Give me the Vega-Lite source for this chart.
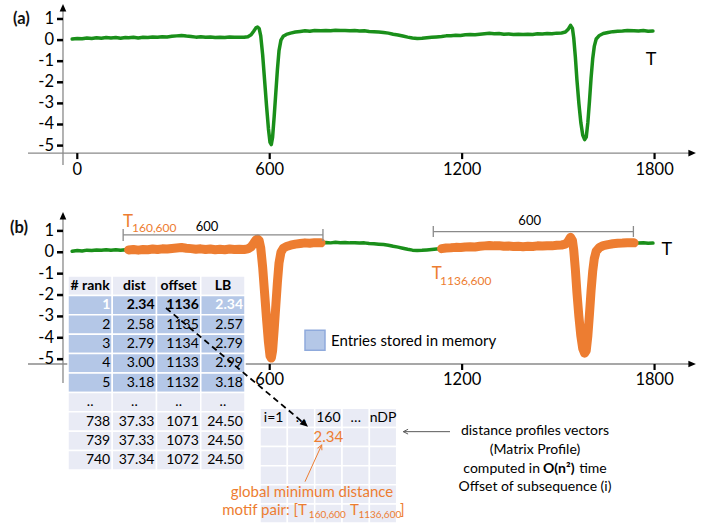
{
  "$schema": "https://vega.github.io/schema/vega-lite/v6.json",
  "width": 718,
  "height": 527,
  "autosize": {"type": "none"},
  "padding": 0,
  "config": {"view": {"stroke": null}, "font": "Lato", "axis": {"disable": true}},
  "datasets": {
    "series": [
      {"t": -16, "v": 0.05}, {"t": 0, "v": 0.08}, {"t": 15, "v": 0.06}, {"t": 30, "v": 0.1}, {"t": 45, "v": 0.08},
      {"t": 60, "v": 0.11}, {"t": 75, "v": 0.09}, {"t": 90, "v": 0.12}, {"t": 105, "v": 0.1}, {"t": 120, "v": 0.12},
      {"t": 135, "v": 0.09}, {"t": 150, "v": 0.12}, {"t": 160, "v": 0.11}, {"t": 175, "v": 0.13}, {"t": 190, "v": 0.1},
      {"t": 205, "v": 0.13}, {"t": 220, "v": 0.12}, {"t": 235, "v": 0.15}, {"t": 250, "v": 0.13}, {"t": 265, "v": 0.16},
      {"t": 280, "v": 0.15}, {"t": 295, "v": 0.18}, {"t": 310, "v": 0.2}, {"t": 325, "v": 0.22}, {"t": 340, "v": 0.19},
      {"t": 355, "v": 0.17}, {"t": 370, "v": 0.14}, {"t": 385, "v": 0.16}, {"t": 400, "v": 0.13}, {"t": 415, "v": 0.15},
      {"t": 430, "v": 0.12}, {"t": 445, "v": 0.14}, {"t": 460, "v": 0.12}, {"t": 475, "v": 0.15}, {"t": 490, "v": 0.13},
      {"t": 505, "v": 0.14}, {"t": 520, "v": 0.13}, {"t": 532, "v": 0.16}, {"t": 542, "v": 0.25}, {"t": 550, "v": 0.42},
      {"t": 557, "v": 0.58}, {"t": 562, "v": 0.62}, {"t": 567, "v": 0.55}, {"t": 572, "v": 0.2}, {"t": 578, "v": -0.7},
      {"t": 584, "v": -1.9}, {"t": 590, "v": -3.1}, {"t": 596, "v": -4.2}, {"t": 601, "v": -4.85}, {"t": 605, "v": -4.95},
      {"t": 609, "v": -4.6}, {"t": 614, "v": -3.6}, {"t": 619, "v": -2.5}, {"t": 624, "v": -1.4}, {"t": 629, "v": -0.5},
      {"t": 635, "v": 0.0}, {"t": 642, "v": 0.18}, {"t": 652, "v": 0.27}, {"t": 665, "v": 0.33}, {"t": 680, "v": 0.38},
      {"t": 695, "v": 0.41}, {"t": 710, "v": 0.44}, {"t": 725, "v": 0.42}, {"t": 740, "v": 0.45}, {"t": 760, "v": 0.44},
      {"t": 775, "v": 0.46}, {"t": 790, "v": 0.44}, {"t": 805, "v": 0.47}, {"t": 820, "v": 0.45}, {"t": 835, "v": 0.46},
      {"t": 850, "v": 0.44}, {"t": 865, "v": 0.45}, {"t": 880, "v": 0.43}, {"t": 895, "v": 0.44}, {"t": 910, "v": 0.41},
      {"t": 925, "v": 0.4}, {"t": 940, "v": 0.38}, {"t": 955, "v": 0.36}, {"t": 970, "v": 0.33}, {"t": 985, "v": 0.28},
      {"t": 1000, "v": 0.24}, {"t": 1015, "v": 0.19}, {"t": 1030, "v": 0.14}, {"t": 1045, "v": 0.1}, {"t": 1060, "v": 0.08},
      {"t": 1075, "v": 0.09}, {"t": 1090, "v": 0.11}, {"t": 1105, "v": 0.13}, {"t": 1120, "v": 0.15}, {"t": 1136, "v": 0.17},
      {"t": 1150, "v": 0.2}, {"t": 1165, "v": 0.21}, {"t": 1180, "v": 0.23}, {"t": 1195, "v": 0.22}, {"t": 1210, "v": 0.25},
      {"t": 1225, "v": 0.26}, {"t": 1240, "v": 0.25}, {"t": 1255, "v": 0.28}, {"t": 1270, "v": 0.3}, {"t": 1285, "v": 0.32},
      {"t": 1300, "v": 0.3}, {"t": 1315, "v": 0.31}, {"t": 1330, "v": 0.28}, {"t": 1345, "v": 0.29}, {"t": 1360, "v": 0.27},
      {"t": 1375, "v": 0.28}, {"t": 1390, "v": 0.26}, {"t": 1405, "v": 0.28}, {"t": 1420, "v": 0.27}, {"t": 1435, "v": 0.3},
      {"t": 1450, "v": 0.29}, {"t": 1465, "v": 0.31}, {"t": 1480, "v": 0.3}, {"t": 1495, "v": 0.33}, {"t": 1510, "v": 0.34},
      {"t": 1522, "v": 0.38}, {"t": 1530, "v": 0.5}, {"t": 1538, "v": 0.7}, {"t": 1544, "v": 0.55}, {"t": 1548, "v": 0.1},
      {"t": 1553, "v": -0.8}, {"t": 1558, "v": -1.9}, {"t": 1564, "v": -3.0}, {"t": 1570, "v": -3.9}, {"t": 1576, "v": -4.5},
      {"t": 1582, "v": -4.72}, {"t": 1587, "v": -4.6}, {"t": 1592, "v": -3.9}, {"t": 1597, "v": -2.9}, {"t": 1602, "v": -1.8},
      {"t": 1607, "v": -0.9}, {"t": 1612, "v": -0.3}, {"t": 1618, "v": 0.05}, {"t": 1628, "v": 0.22}, {"t": 1640, "v": 0.31},
      {"t": 1655, "v": 0.36}, {"t": 1670, "v": 0.4}, {"t": 1685, "v": 0.42}, {"t": 1700, "v": 0.43}, {"t": 1715, "v": 0.45},
      {"t": 1736, "v": 0.44}, {"t": 1750, "v": 0.43}, {"t": 1765, "v": 0.45}, {"t": 1780, "v": 0.42}, {"t": 1795, "v": 0.43}
    ],
    "yticks": [
      {"t": -63.3, "t2": -44.6, "v": -5, "label": "-5"}, {"t": -63.3, "t2": -44.6, "v": -4, "label": "-4"},
      {"t": -63.3, "t2": -44.6, "v": -3, "label": "-3"}, {"t": -63.3, "t2": -44.6, "v": -2, "label": "-2"},
      {"t": -63.3, "t2": -44.6, "v": -1, "label": "-1"}, {"t": -63.3, "t2": -44.6, "v": 0, "label": "0"},
      {"t": -63.3, "t2": -44.6, "v": 1, "label": "1"}
    ],
    "xticksA": [
      {"t": 0, "v": -5.355, "v2": -5.64, "label": "0"}, {"t": 600, "v": -5.355, "v2": -5.64, "label": "600"},
      {"t": 1200, "v": -5.355, "v2": -5.64, "label": "1200"}, {"t": 1800, "v": -5.355, "v2": -5.64, "label": "1800"}
    ],
    "xticksB": [
      {"t": 0, "v": -5.225, "v2": -5.506, "label": "0"}, {"t": 600, "v": -5.225, "v2": -5.506, "label": "600"},
      {"t": 1200, "v": -5.225, "v2": -5.506, "label": "1200"}, {"t": 1800, "v": -5.225, "v2": -5.506, "label": "1800"}
    ]
  },
  "layer": [
    {
      "encoding": {
        "x": {"field": "t", "type": "quantitative", "scale": {"domain": [-241, 1997.8], "nice": false, "zero": false}},
        "y": {"field": "v", "type": "quantitative", "scale": {"domain": [-23.076, 1.9], "nice": false, "zero": false}}
      },
      "layer": [
        {
          "data": {"name": "series"},
          "mark": {"type": "line", "color": "#1a8f1a", "strokeWidth": 3.5, "strokeJoin": "round", "strokeCap": "round"}
        },
        {
          "data": {"values": [{"t": -44.6, "t2": -44.6, "v": 1.55, "v2": -5.92}, {"t": -153.7, "t2": 1918, "v": -5.355, "v2": -5.355}]},
          "mark": {"type": "rule", "color": "#8a8a8a", "strokeWidth": 1.3},
          "encoding": {"x2": {"field": "t2"}, "y2": {"field": "v2"}}
        },
        {
          "data": {"name": "yticks"},
          "mark": {"type": "rule", "color": "#000", "strokeWidth": 2.5},
          "encoding": {"x2": {"field": "t2"}}
        },
        {
          "data": {"name": "yticks"},
          "mark": {"type": "text", "fontSize": 16.5, "align": "right", "baseline": "middle", "color": "#000", "dx": -3},
          "encoding": {"text": {"field": "label"}}
        },
        {
          "data": {"name": "xticksA"},
          "mark": {"type": "rule", "color": "#000", "strokeWidth": 2.2},
          "encoding": {"y2": {"field": "v2"}}
        },
        {
          "data": {"name": "xticksA"},
          "mark": {"type": "text", "fontSize": 16.5, "align": "center", "baseline": "top", "color": "#000", "dy": 3},
          "encoding": {"y": {"field": "v2", "type": "quantitative"}, "text": {"field": "label"}}
        },
        {
          "data": {"values": [{"t": -44.6, "v": 1.711}]},
          "mark": {"type": "point", "shape": "M0,0L0.7,1.6L-0.7,1.6Z", "filled": true, "color": "#000", "opacity": 1, "size": 90, "angle": 0}
        },
        {
          "data": {"values": [{"t": 1929, "v": -5.355}]},
          "mark": {"type": "point", "shape": "M0,0L0.7,1.6L-0.7,1.6Z", "filled": true, "color": "#000", "opacity": 1, "size": 90, "angle": 90}
        },
        {
          "data": {"values": [{"t": -200.5, "v": 0.976, "label": "(a)"}]},
          "mark": {"type": "text", "fontSize": 16.5, "fontWeight": "bold", "align": "left", "baseline": "middle", "color": "#111"},
          "encoding": {"text": {"field": "label"}}
        },
        {
          "data": {"values": [{"t": 1789, "v": -0.943, "label": "T"}]},
          "mark": {"type": "text", "fontSize": 18, "align": "center", "baseline": "middle", "color": "#000"},
          "encoding": {"text": {"field": "label"}}
        }
      ]
    },
    {
      "encoding": {
        "x": {"field": "t", "type": "quantitative", "scale": {"domain": [-241, 1997.8], "nice": false, "zero": false}},
        "y": {"field": "v", "type": "quantitative", "scale": {"domain": [-12.85, 11.8], "nice": false, "zero": false}}
      },
      "layer": [
        {
          "data": {"values": [{"t": -44.6, "t2": -44.6, "v": 1.72, "v2": -6.11}, {"t": -153.7, "t2": 1918, "v": -5.225, "v2": -5.225}]},
          "mark": {"type": "rule", "color": "#8a8a8a", "strokeWidth": 1.3},
          "encoding": {"x2": {"field": "t2"}, "y2": {"field": "v2"}}
        },
        {
          "data": {"name": "yticks"},
          "mark": {"type": "rule", "color": "#000", "strokeWidth": 2.5},
          "encoding": {"x2": {"field": "t2"}}
        },
        {
          "data": {"name": "yticks"},
          "mark": {"type": "text", "fontSize": 16.5, "align": "right", "baseline": "middle", "color": "#000", "dx": -3},
          "encoding": {"text": {"field": "label"}}
        },
        {
          "data": {"name": "xticksB"},
          "mark": {"type": "rule", "color": "#000", "strokeWidth": 2.2},
          "encoding": {"y2": {"field": "v2"}}
        },
        {
          "data": {"name": "xticksB"},
          "mark": {"type": "text", "fontSize": 16.5, "align": "center", "baseline": "top", "color": "#000", "dy": 2},
          "encoding": {"y": {"field": "v2", "type": "quantitative"}, "text": {"field": "label"}}
        },
        {
          "data": {"name": "series"},
          "mark": {"type": "line", "color": "#1a8f1a", "strokeWidth": 3.5, "strokeJoin": "round", "strokeCap": "round"}
        },
        {
          "data": {"name": "series"},
          "transform": [{"filter": {"field": "t", "range": [160, 760]}}],
          "mark": {"type": "line", "color": "#ED7D31", "strokeWidth": 9, "strokeJoin": "round", "strokeCap": "round"}
        },
        {
          "data": {"name": "series"},
          "transform": [{"filter": {"field": "t", "range": [1136, 1736]}}],
          "mark": {"type": "line", "color": "#ED7D31", "strokeWidth": 9, "strokeJoin": "round", "strokeCap": "round"}
        },
        {
          "data": {"values": [
            {"t": 143, "t2": 766, "v": 0.81, "v2": 0.81},
            {"t": 143, "t2": 143, "v": 1.09, "v2": 0.53},
            {"t": 766, "t2": 766, "v": 1.09, "v2": 0.53},
            {"t": 1110, "t2": 1734, "v": 0.964, "v2": 0.964},
            {"t": 1110, "t2": 1110, "v": 1.23, "v2": 0.716},
            {"t": 1734, "t2": 1734, "v": 1.23, "v2": 0.716}
          ]},
          "mark": {"type": "rule", "color": "#8a8a8a", "strokeWidth": 1.3},
          "encoding": {"x2": {"field": "t2"}, "y2": {"field": "v2"}}
        },
        {
          "data": {"values": [{"t": -44.6, "v": 1.885}]},
          "mark": {"type": "point", "shape": "M0,0L0.7,1.6L-0.7,1.6Z", "filled": true, "color": "#000", "opacity": 1, "size": 90, "angle": 0}
        },
        {
          "data": {"values": [{"t": 1929, "v": -5.225}]},
          "mark": {"type": "point", "shape": "M0,0L0.7,1.6L-0.7,1.6Z", "filled": true, "color": "#000", "opacity": 1, "size": 90, "angle": 90}
        },
        {
          "data": {"values": [{"t": -209.9, "v": 1.12, "label": "(b)"}]},
          "mark": {"type": "text", "fontSize": 16.5, "fontWeight": "bold", "align": "left", "baseline": "middle", "color": "#111"},
          "encoding": {"text": {"field": "label"}}
        },
        {
          "data": {"values": [{"t": 1838, "v": 0.108, "label": "T"}]},
          "mark": {"type": "text", "fontSize": 18, "align": "center", "baseline": "middle", "color": "#000"},
          "encoding": {"text": {"field": "label"}}
        },
        {
          "data": {"values": [{"t": 404.5, "v": 1.16, "label": "600"}, {"t": 1410.6, "v": 1.45, "label": "600"}]},
          "mark": {"type": "text", "fontSize": 13, "align": "center", "baseline": "middle", "color": "#000"},
          "encoding": {"text": {"field": "label"}}
        },
        {
          "data": {"values": [{"t": 142.5, "v": 1.197, "label": "T"}, {"t": 1105, "v": -1.249, "label": "T"}]},
          "mark": {"type": "text", "fontSize": 17, "align": "left", "baseline": "alphabetic", "color": "#ED7D31"},
          "encoding": {"text": {"field": "label"}}
        },
        {
          "data": {"values": [{"t": 170.6, "v": 0.926, "label": "160,600"}, {"t": 1131, "v": -1.53, "label": "1136,600"}]},
          "mark": {"type": "text", "fontSize": 12, "align": "left", "baseline": "alphabetic", "color": "#ED7D31"},
          "encoding": {"text": {"field": "label"}}
        }
      ]
    },
    {
      "data": {"values": [
        {"r": "h", "grp": "header", "rank": "# rank", "dist": "dist", "offset": "offset", "LB": "LB"},
        {"r": "1", "grp": "stored", "rank": "1", "dist": "2.34", "offset": "1136", "LB": "2.34"},
        {"r": "2", "grp": "stored", "rank": "2", "dist": "2.58", "offset": "1135", "LB": "2.57"},
        {"r": "3", "grp": "stored", "rank": "3", "dist": "2.79", "offset": "1134", "LB": "2.79"},
        {"r": "4", "grp": "stored", "rank": "4", "dist": "3.00", "offset": "1133", "LB": "2.99"},
        {"r": "5", "grp": "stored", "rank": "5", "dist": "3.18", "offset": "1132", "LB": "3.18"},
        {"r": "..", "grp": "other", "rank": "..", "dist": "..", "offset": "..", "LB": ".."},
        {"r": "738", "grp": "other", "rank": "738", "dist": "37.33", "offset": "1071", "LB": "24.50"},
        {"r": "739", "grp": "other", "rank": "739", "dist": "37.33", "offset": "1073", "LB": "24.50"},
        {"r": "740", "grp": "other", "rank": "740", "dist": "37.34", "offset": "1072", "LB": "24.50"}
      ]},
      "transform": [{"fold": ["rank", "dist", "offset", "LB"], "as": ["c", "txt"]}],
      "encoding": {
        "x": {"field": "c", "type": "nominal", "scale": {"type": "band", "domain": ["rank", "dist", "offset", "LB"], "range": [68, 245], "paddingInner": 0, "paddingOuter": 0}},
        "y": {"field": "r", "type": "ordinal", "scale": {"type": "band", "domain": ["h", "1", "2", "3", "4", "5", "..", "738", "739", "740"], "range": [276, 470], "paddingInner": 0, "paddingOuter": 0}}
      },
      "layer": [
        {
          "mark": {"type": "rect", "stroke": "#ffffff", "strokeWidth": 1.5},
          "encoding": {
            "fill": {"field": "grp", "type": "nominal", "scale": {"domain": ["header", "stored", "other"], "range": ["#E9EBF5", "#B4C7E7", "#E9EBF5"]}, "legend": null}
          }
        },
        {
          "transform": [{"filter": "datum.r === 'h'"}],
          "mark": {"type": "text", "fontSize": 14, "fontWeight": "bold", "align": "center", "baseline": "middle", "color": "#000"},
          "encoding": {"text": {"field": "txt"}}
        },
        {
          "transform": [{"filter": "datum.r === '..'"}],
          "mark": {"type": "text", "fontSize": 14, "align": "center", "baseline": "middle", "color": "#000"},
          "encoding": {"text": {"field": "txt"}}
        },
        {
          "transform": [{"filter": "datum.r === '1'"}],
          "mark": {"type": "text", "fontSize": 14, "fontWeight": "bold", "align": "right", "baseline": "middle", "dx": -2},
          "encoding": {
            "x": {"field": "c", "type": "nominal", "bandPosition": 1, "scale": {"type": "band", "domain": ["rank", "dist", "offset", "LB"], "range": [68, 245], "paddingInner": 0, "paddingOuter": 0}},
            "text": {"field": "txt"},
            "color": {"condition": {"test": "datum.c === 'rank' || datum.c === 'LB'", "value": "#ffffff"}, "value": "#000000"}
          }
        },
        {
          "transform": [{"filter": "datum.r !== '1' && datum.r !== 'h' && datum.r !== '..'"}],
          "mark": {"type": "text", "fontSize": 14, "align": "right", "baseline": "middle", "dx": -2, "color": "#000"},
          "encoding": {
            "x": {"field": "c", "type": "nominal", "bandPosition": 1, "scale": {"type": "band", "domain": ["rank", "dist", "offset", "LB"], "range": [68, 245], "paddingInner": 0, "paddingOuter": 0}},
            "text": {"field": "txt"}
          }
        }
      ]
    },
    {
      "data": {"values": [
        {"r": "h", "c1": "i=1", "c2": "…", "c3": "160", "c4": "…", "c5": "nDP"},
        {"r": "r1", "c1": "", "c2": "", "c3": "2.34", "c4": "", "c5": ""},
        {"r": "r2", "c1": "", "c2": "", "c3": "", "c4": "", "c5": ""},
        {"r": "r3", "c1": "", "c2": "", "c3": "", "c4": "", "c5": ""},
        {"r": "r4", "c1": "", "c2": "", "c3": "", "c4": "", "c5": ""},
        {"r": "r5", "c1": "", "c2": "", "c3": "", "c4": "", "c5": ""}
      ]},
      "transform": [{"fold": ["c1", "c2", "c3", "c4", "c5"], "as": ["c", "txt"]}],
      "encoding": {
        "x": {"field": "c", "type": "nominal", "scale": {"type": "band", "domain": ["c1", "c2", "c3", "c4", "c5"], "range": [260, 396.7], "paddingInner": 0, "paddingOuter": 0}},
        "y": {"field": "r", "type": "ordinal", "scale": {"type": "band", "domain": ["h", "r1", "r2", "r3", "r4", "r5"], "range": [408.3, 523], "paddingInner": 0, "paddingOuter": 0}}
      },
      "layer": [
        {"mark": {"type": "rect", "fill": "#E9EBF5", "stroke": "#ffffff", "strokeWidth": 1.5}},
        {
          "transform": [{"filter": "datum.r === 'h'"}],
          "mark": {"type": "text", "fontSize": 14, "align": "center", "baseline": "middle", "color": "#000"},
          "encoding": {"text": {"field": "txt"}}
        },
        {
          "transform": [{"filter": "datum.r === 'r1'"}],
          "mark": {"type": "text", "fontSize": 15, "align": "center", "baseline": "middle", "color": "#ED7D31"},
          "encoding": {"text": {"field": "txt"}}
        }
      ]
    },
    {
      "encoding": {
        "x": {"field": "t", "type": "quantitative", "scale": {"domain": [-241, 1997.8], "nice": false, "zero": false}},
        "y": {"field": "v", "type": "quantitative", "scale": {"domain": [-12.85, 11.8], "nice": false, "zero": false}}
      },
      "layer": [
        {
          "data": {"values": [{"t": 276.6, "v": -2.605, "t2": 703, "v2": -7.95}]},
          "mark": {"type": "rule", "color": "#000", "strokeWidth": 1.8, "strokeDash": [6, 4]},
          "encoding": {"x2": {"field": "t2"}, "y2": {"field": "v2"}}
        },
        {
          "data": {"values": [{"t": 719.4, "v": -8.157}]},
          "mark": {"type": "point", "shape": "M0,0L0.7,1.6L-0.7,1.6Z", "filled": true, "color": "#000", "opacity": 1, "size": 100, "angle": 129.9}
        },
        {
          "data": {"values": [{"t": 710.0, "v": -10.73, "t2": 762.1, "v2": -9.013}]},
          "mark": {"type": "rule", "color": "#ED7D31", "strokeWidth": 1},
          "encoding": {"x2": {"field": "t2"}, "y2": {"field": "v2"}}
        },
        {
          "data": {"values": [{"t": 762.1, "v": -9.013}]},
          "mark": {"type": "point", "shape": "M-0.6,1.2L0,0L0.6,1.2", "filled": false, "color": "#ED7D31", "strokeWidth": 1, "opacity": 1, "size": 64, "angle": 24.5}
        },
        {
          "data": {"values": [{"t": 1162.1, "v": -8.391, "t2": 1016.5, "v2": -8.391}]},
          "mark": {"type": "rule", "color": "#595959", "strokeWidth": 1},
          "encoding": {"x2": {"field": "t2"}, "y2": {"field": "v2"}}
        },
        {
          "data": {"values": [{"t": 1016.5, "v": -8.391}]},
          "mark": {"type": "point", "shape": "M-0.6,1.2L0,0L0.6,1.2", "filled": false, "color": "#595959", "strokeWidth": 1, "opacity": 1, "size": 64, "angle": -90}
        },
        {
          "data": {"values": [{"t": 741.2, "v": -4.12}]},
          "mark": {"type": "point", "shape": "square", "filled": true, "fill": "#B4C7E7", "stroke": "#8FAADC", "strokeWidth": 1.5, "opacity": 1, "size": 400}
        },
        {
          "data": {"values": [{"t": 791, "v": -4.15, "label": "Entries stored in memory"}]},
          "mark": {"type": "text", "fontSize": 15, "align": "left", "baseline": "middle", "color": "#000"},
          "encoding": {"text": {"field": "label"}}
        },
        {
          "data": {"values": [
            {"t": 1427.2, "v": -8.344, "label": "distance profiles vectors"},
            {"t": 1427.2, "v": -9.247, "label": "(Matrix Profile)"},
            {"t": 1427.2, "v": -10.978, "label": "Offset of subsequence (i)"}
          ]},
          "mark": {"type": "text", "fontSize": 14, "align": "center", "baseline": "middle", "color": "#000"},
          "encoding": {"text": {"field": "label"}}
        },
        {
          "data": {"values": [{"t": 1442.8, "v": -10.136, "label": "computed in"}]},
          "mark": {"type": "text", "fontSize": 14, "align": "right", "baseline": "middle", "color": "#000"},
          "encoding": {"text": {"field": "label"}}
        },
        {
          "data": {"values": [{"t": 1452.2, "v": -10.136, "label": "O(n²)"}]},
          "mark": {"type": "text", "fontSize": 14, "fontWeight": "bold", "align": "left", "baseline": "middle", "color": "#000"},
          "encoding": {"text": {"field": "label"}}
        },
        {
          "data": {"values": [{"t": 1565, "v": -10.136, "label": "time"}]},
          "mark": {"type": "text", "fontSize": 14, "align": "left", "baseline": "middle", "color": "#000"},
          "encoding": {"text": {"field": "label"}}
        },
        {
          "data": {"values": [{"t": 731.7, "v": -11.197, "label": "global minimum distance"}]},
          "mark": {"type": "text", "fontSize": 15, "align": "center", "baseline": "middle", "color": "#ED7D31"},
          "encoding": {"text": {"field": "label"}}
        },
        {
          "data": {"values": [{"t": 716.2, "v": -12.29, "label": "motif pair: [T"}]},
          "mark": {"type": "text", "fontSize": 15, "align": "right", "baseline": "alphabetic", "color": "#ED7D31"},
          "encoding": {"text": {"field": "label"}}
        },
        {
          "data": {"values": [{"t": 850.3, "v": -12.29, "label": "T"}, {"t": 1006, "v": -12.29, "label": "]"}]},
          "mark": {"type": "text", "fontSize": 15, "align": "left", "baseline": "alphabetic", "color": "#ED7D31"},
          "encoding": {"text": {"field": "label"}}
        },
        {
          "data": {"values": [{"t": 722, "v": -12.45, "label": "160,600"}, {"t": 876.5, "v": -12.45, "label": "1136,600"}]},
          "mark": {"type": "text", "fontSize": 10, "align": "left", "baseline": "alphabetic", "color": "#ED7D31"},
          "encoding": {"text": {"field": "label"}}
        }
      ]
    }
  ],
  "resolve": {"scale": {"x": "independent", "y": "independent"}}
}
